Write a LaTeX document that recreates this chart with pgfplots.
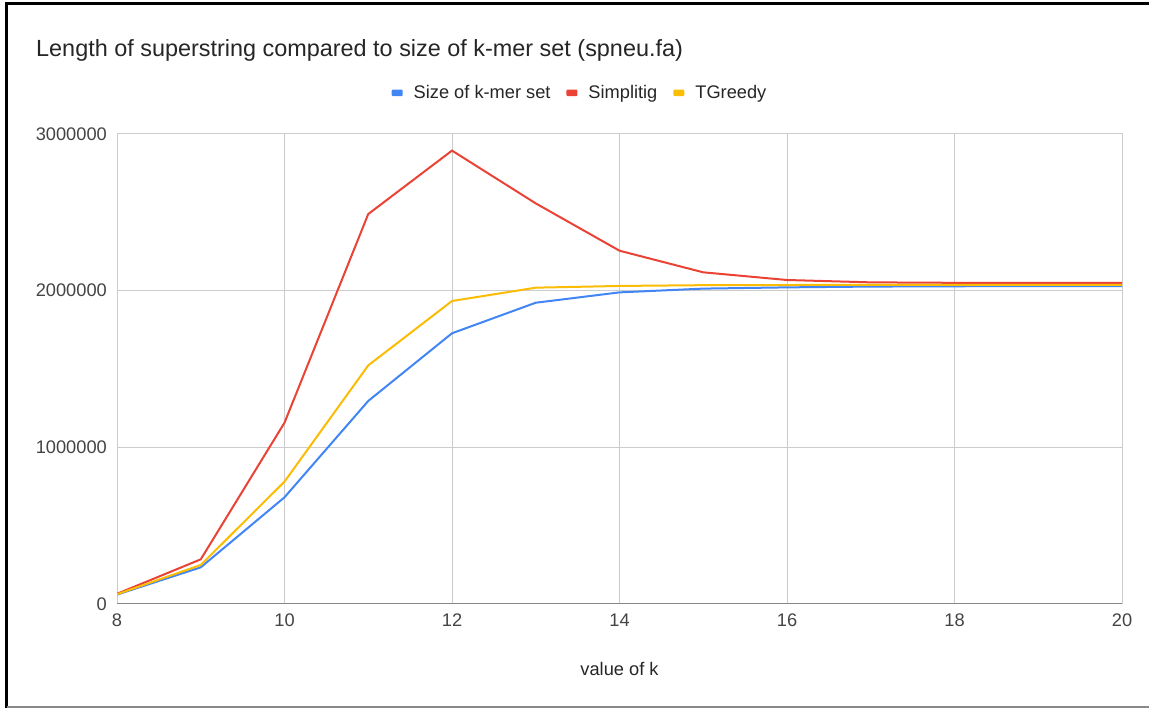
\documentclass[border=0pt]{standalone}
\usepackage{pgfplots}
\pgfplotsset{compat=1.18}
\usepackage{fontspec}
\setmainfont{Liberation Sans}
\definecolor{gblue}{HTML}{4285F4}
\definecolor{gred}{HTML}{EA4335}
\definecolor{gyellow}{HTML}{FBBC04}
\definecolor{gridc}{HTML}{CCCCCC}
\definecolor{txt}{HTML}{444444}
\definecolor{axc}{HTML}{888888}

\pgfplotstableread{
k size simplitig tgreedy
8  60000   65000   62000
9  234000  285000  249000
10 681000  1157000 781000
11 1296000 2489000 1523000
12 1728000 2894000 1934000
13 1923000 2557000 2019000
14 1989000 2255000 2030000
15 2013000 2117000 2035000
16 2021000 2068000 2036000
17 2026000 2053000 2037000
18 2028000 2050000 2037000
19 2029000 2049000 2037000
20 2029000 2049000 2037000
}\datatable

\begin{document}
\begin{tikzpicture}[x=1bp,y=1bp]
\useasboundingbox (0,0) rectangle (1149,708);
\fill[white] (0,0) rectangle (1149,708);
\draw[line width=3bp, black] (6.5,0) -- (6.5,704) -- (1149,704);
\draw[line width=2bp, axc] (6.5,1) -- (1149,1);
\node[anchor=base west, inner sep=0pt, font=\fontsize{23.5}{28}\selectfont, text=black!85] at (36,708-57) {Length of superstring compared to size of k-mer set (spneu.fa)};
\begin{axis}[
  at={(117bp,104bp)}, anchor=south west,
  width=1005bp, height=470bp, scale only axis,
  xmin=8, xmax=20, ymin=0, ymax=3000000,
  xtick={8,10,...,20}, ytick={0,1000000,2000000,3000000},
  scaled y ticks=false,
  /pgf/number format/assume math mode=true,
  yticklabel style={/pgf/number format/fixed, /pgf/number format/1000 sep={}, font=\fontsize{18.3}{22}\selectfont, text=txt, inner sep=0pt, xshift=-10bp},
  xticklabel style={font=\fontsize{18.3}{22}\selectfont, text=txt, inner sep=0pt, yshift=-10bp},
  major tick length=0pt,
  grid=major,
  major grid style={gridc, line width=1bp},
  axis line style={gridc, line width=1bp},
  xlabel={value of k},
  xlabel style={at={(axis description cs:0.5,0)}, anchor=center, yshift=-65bp, font=\fontsize{18.3}{22}\selectfont, text=black!85},
  legend style={at={(axis description cs:0.4607,1.0875)}, anchor=center, draw=none, fill=none,
    legend columns=3, font=\fontsize{18.3}{22}\selectfont, text=black!85,
    /tikz/every even column/.append style={column sep=14bp}},
  legend image code/.code={\path[draw=none, fill=none] (0bp,-3bp) rectangle (20bp,3bp); \fill[#1, draw=none, rounded corners=1bp] (0bp,-3.2bp) rectangle (11bp,3.2bp);},
  every axis plot/.append style={line width=2bp, mark=none},
]
\addplot[gblue] table[x=k, y=size] {\datatable};
\addlegendentry{Size of k-mer set}
\addplot[gred] table[x=k, y=simplitig] {\datatable};
\addlegendentry{Simplitig}
\addplot[gyellow] table[x=k, y=tgreedy] {\datatable};
\addlegendentry{TGreedy}
\draw[axc, line width=2bp] (axis cs:8,0) -- (axis cs:20,0);
\end{axis}
\end{tikzpicture}
\end{document}
